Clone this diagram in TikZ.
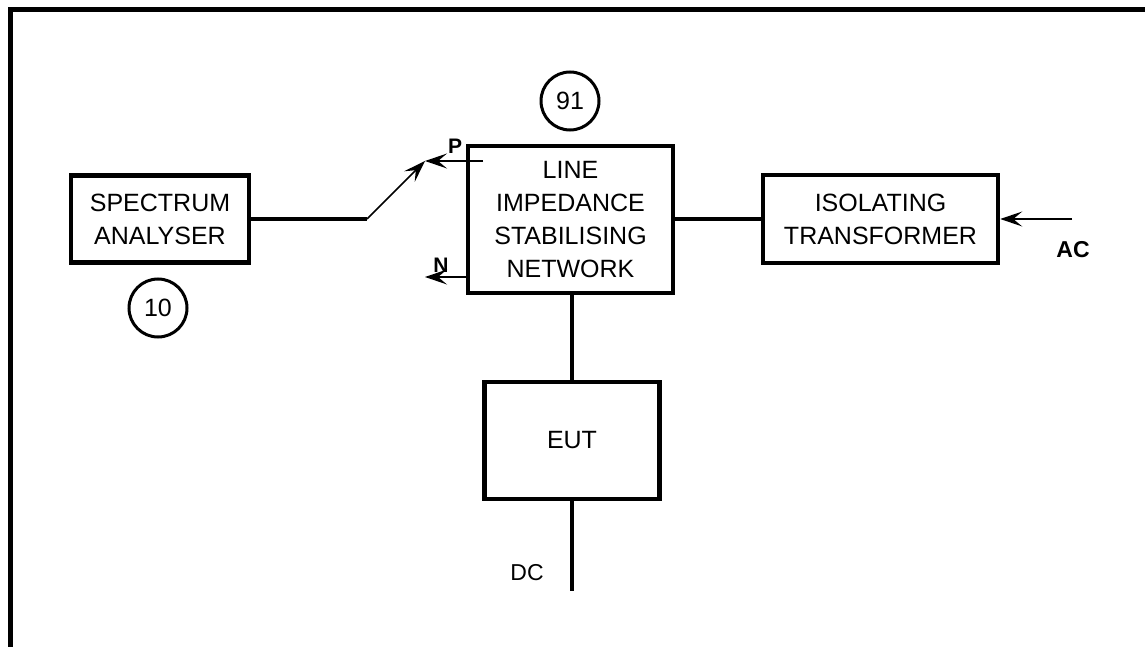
\documentclass[tikz,border=0pt]{standalone}
\usepackage{fontspec}
\setmainfont{Liberation Sans}
\usetikzlibrary{arrows.meta}
\begin{document}
\begin{tikzpicture}[x=1pt,y=-1pt,
  block/.style={draw, line width=4.5pt, inner sep=0pt, align=center,
    font=\fontsize{25}{33}\selectfont},
  ref/.style={draw, circle, line width=3pt, minimum size=58pt, inner sep=0pt,
    font=\fontsize{25}{30}\selectfont},
  wire/.style={line width=4pt},
  thin/.style={line width=1.5pt},
  tip/.style={-{Stealth[length=22pt,width=15pt,inset=9pt]}},
  lbl/.style={inner sep=0pt, font=\bfseries\fontsize{21}{24}\selectfont},
]
\useasboundingbox (0,0) rectangle (1145,647);
% frame
\draw[line width=5pt] (10.5,647) -- (10.5,10) -- (1145,10);
% blocks
\node[block, minimum width=178pt, minimum height=87pt] (sa) at (160,219) {SPECTRUM\\ANALYSER};
\node[block, minimum width=205pt, minimum height=147pt] (lisn) at (570.5,219.5) {LINE\\IMPEDANCE\\STABILISING\\NETWORK};
\node[block, minimum width=235pt, minimum height=88pt] (iso) at (880.5,219) {ISOLATING\\TRANSFORMER};
\node[block, minimum width=175pt, minimum height=117pt] (eut) at (572,440.5) {EUT};
% reference circles
\node[ref] (c91) at (570,101) {91};
\node[ref] (c10) at (158,308) {10};
% connections
\coordinate (sw) at (367,219);
\coordinate (swtip) at (425,161);
\coordinate (pstart) at (483,161);
\coordinate (nend) at (425,277);
\coordinate (acstart) at (1072,219);
\coordinate (dcend) at (572,591);
\draw[wire] (sa.east) -- (sw);
\draw[thin, tip] (sw) -- (swtip);
\draw[thin, tip] (pstart) -- (swtip);
\draw[thin, tip] (lisn.west |- nend) -- (nend);
\draw[wire] (lisn.east |- iso.west) -- (iso.west);
\draw[wire] (lisn.south -| eut.north) -- (eut.north);
\draw[wire] (eut.south) -- (dcend);
\draw[thin, tip] (acstart) -- (iso.east);
% labels
\node[lbl] (p) at (455,146) {P};
\node[lbl] (n) at (441,265) {N};
\node[lbl, font=\bfseries\fontsize{23}{26}\selectfont] (ac) at (1073,250) {AC};
\node[inner sep=0pt, font=\fontsize{23}{26}\selectfont] (dc) at (527,573) {DC};
\end{tikzpicture}
\end{document}
